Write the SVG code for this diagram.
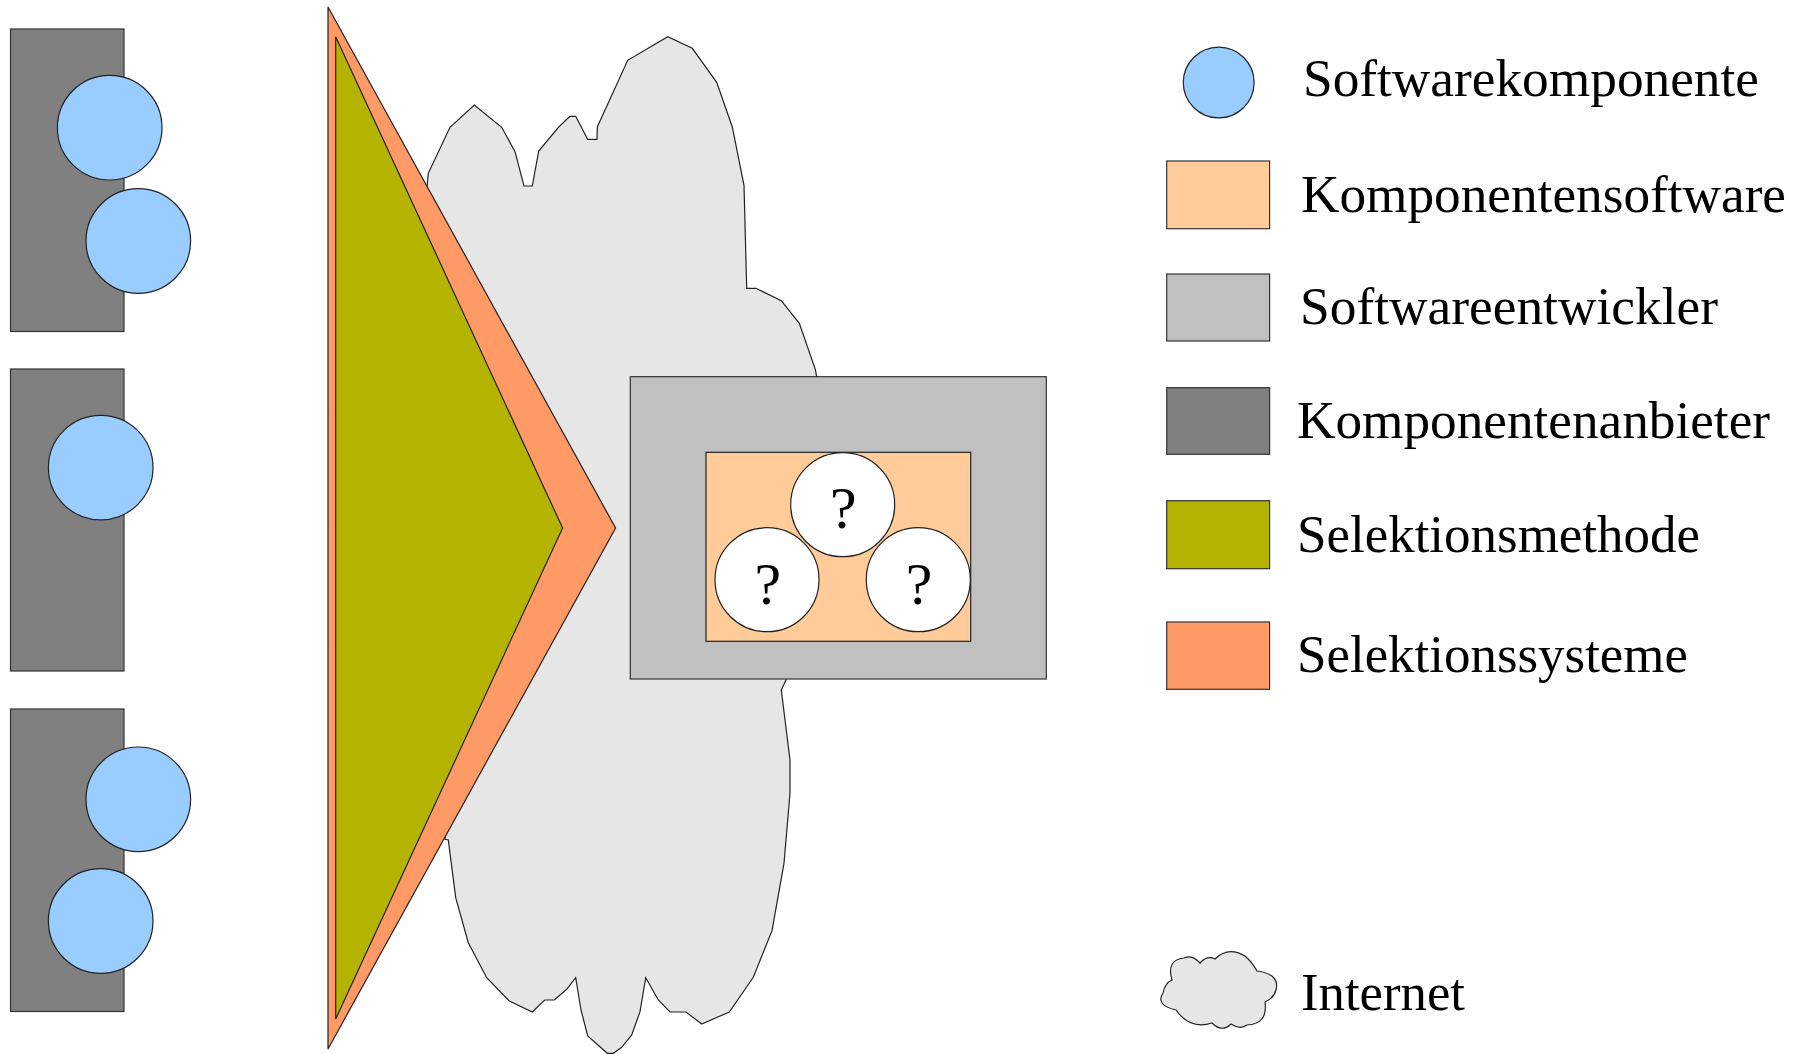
<svg xmlns="http://www.w3.org/2000/svg" width="1800" height="1054" viewBox="0 0 1800 1054">
<style>
.s{stroke:#222;stroke-width:1.2}
.comp{fill:#99ccff;stroke:#222;stroke-width:1.2}
.prov{fill:#808080;stroke:#333;stroke-width:1.2}
.lbl{font-family:"Liberation Serif","Times New Roman",serif;font-size:53px;fill:#000}
.q{font-family:"Liberation Serif","Times New Roman",serif;font-size:60px;fill:#000;text-anchor:middle}
</style>
<rect width="1800" height="1054" fill="#fff"/>
<g id="internet-cloud">
<polygon class="s" fill="#e6e6e6" points="427,187 428.3,173.3 450,127.3 474.3,105 501.7,127.3 515,151.7 524,186 532.3,186 538.7,151 558.7,127 570,116.3 575.7,116.3 587.7,139.3 597,139.3 597.3,127 627.7,60.3 667.7,36.7 692.3,48.3 716.7,82.3 732.3,127 744,185.3 746.7,288.3 756,288.3 781.3,300.7 799.3,323.3 815.3,369.3 816.7,376.7 830,420 786,680 781.3,690 790,760 790,793.3 784,863.3 772,930.7 753.3,977.3 729.3,1012 701.7,1024 686,1012 670,1012 658.3,1000 645.7,977.7 640,1011.7 631.7,1035 621.7,1047.3 613.3,1053.3 607.3,1053.3 587.7,1036 581,1010 575.7,977.7 566.7,989.3 554.3,1000 544.7,1000 532.3,1012 509,1000.7 486.7,977.7 468.3,942.7 455.7,897.7 448.3,840 445,839.3"/>
</g>
<g id="provider-1">
<rect class="prov" x="10.5" y="29" width="113.5" height="302.5"/>
<circle class="comp" cx="109.7" cy="127.7" r="52.3"/>
<circle class="comp" cx="138.3" cy="241" r="52.3"/>
</g>
<g id="provider-2">
<rect class="prov" x="10.5" y="369" width="113.5" height="302"/>
<circle class="comp" cx="100.7" cy="467.6" r="52.3"/>
</g>
<g id="provider-3">
<rect class="prov" x="10.5" y="709" width="113.5" height="302.5"/>
<circle class="comp" cx="138.3" cy="799.3" r="52.3"/>
<circle class="comp" cx="100.7" cy="921" r="52.3"/>
</g>
<g id="selection">
<polygon class="s" fill="#ff9966" points="328,7 615.6,528 328,1049"/>
<polygon class="s" fill="#b3b300" points="335.7,36.7 562.6,528 335.7,1019"/>
</g>
<g id="developer">
<rect fill="#c0c0c0" stroke="#333" stroke-width="1.2" x="630.3" y="376.7" width="416" height="302.3"/>
<rect fill="#ffcc99" stroke="#222" stroke-width="1.2" x="706" y="452.3" width="264.7" height="189"/>
<circle fill="#fff" class="s" cx="842.7" cy="504.7" r="52"/>
<circle fill="#fff" class="s" cx="767" cy="579.7" r="52"/>
<circle fill="#fff" class="s" cx="918.3" cy="579.7" r="52"/>
<text class="q" x="843.3" y="528.3">?</text>
<text class="q" x="767.7" y="604">?</text>
<text class="q" x="919" y="604">?</text>
</g>
<g id="legend-softwarekomponente">
<circle class="comp" cx="1218.7" cy="82.5" r="35.4"/>
<text class="lbl" x="1303" y="95.7" textLength="456" lengthAdjust="spacingAndGlyphs">Softwarekomponente</text>
</g>
<g id="legend-komponentensoftware">
<rect fill="#ffcc99" stroke="#333" stroke-width="1.2" x="1166.7" y="161" width="102.9" height="67.7"/>
<text class="lbl" x="1301" y="212" textLength="485" lengthAdjust="spacingAndGlyphs">Komponentensoftware</text>
</g>
<g id="legend-softwareentwickler">
<rect fill="#c0c0c0" stroke="#333" stroke-width="1.2" x="1166.7" y="274" width="102.9" height="67"/>
<text class="lbl" x="1300" y="324" textLength="418" lengthAdjust="spacingAndGlyphs">Softwareentwickler</text>
</g>
<g id="legend-komponentenanbieter">
<rect fill="#808080" stroke="#333" stroke-width="1.2" x="1166.7" y="387.7" width="102.9" height="66.6"/>
<text class="lbl" x="1297" y="438.3" textLength="473" lengthAdjust="spacingAndGlyphs">Komponentenanbieter</text>
</g>
<g id="legend-selektionsmethode">
<rect fill="#b3b300" stroke="#333" stroke-width="1.2" x="1166.7" y="500.7" width="102.9" height="68"/>
<text class="lbl" x="1297" y="551.7" textLength="403" lengthAdjust="spacingAndGlyphs">Selektionsmethode</text>
</g>
<g id="legend-selektionssysteme">
<rect fill="#ff9966" stroke="#333" stroke-width="1.2" x="1166.7" y="622" width="102.9" height="67.3"/>
<text class="lbl" x="1297" y="672.3" textLength="391" lengthAdjust="spacingAndGlyphs">Selektionssysteme</text>
</g>
<g id="legend-internet">
<path class="s" fill="#e6e6e6" d="M1172,980 Q1166,960 1184,958 Q1192,954 1200,963 Q1207,955 1215,959 Q1228,946 1245,956 Q1252,962 1257,971 Q1280,974 1276,990 Q1274,998 1265,1002 Q1268,1024 1247,1025 Q1240,1030 1231,1024 Q1222,1033 1212,1023 Q1190,1030 1176,1010 Q1155,1005 1163,993 Q1165,983 1172,980 Z"/>
<text class="lbl" x="1301" y="1010" textLength="164" lengthAdjust="spacingAndGlyphs">Internet</text>
</g>
<g id="connectors"></g>
</svg>
